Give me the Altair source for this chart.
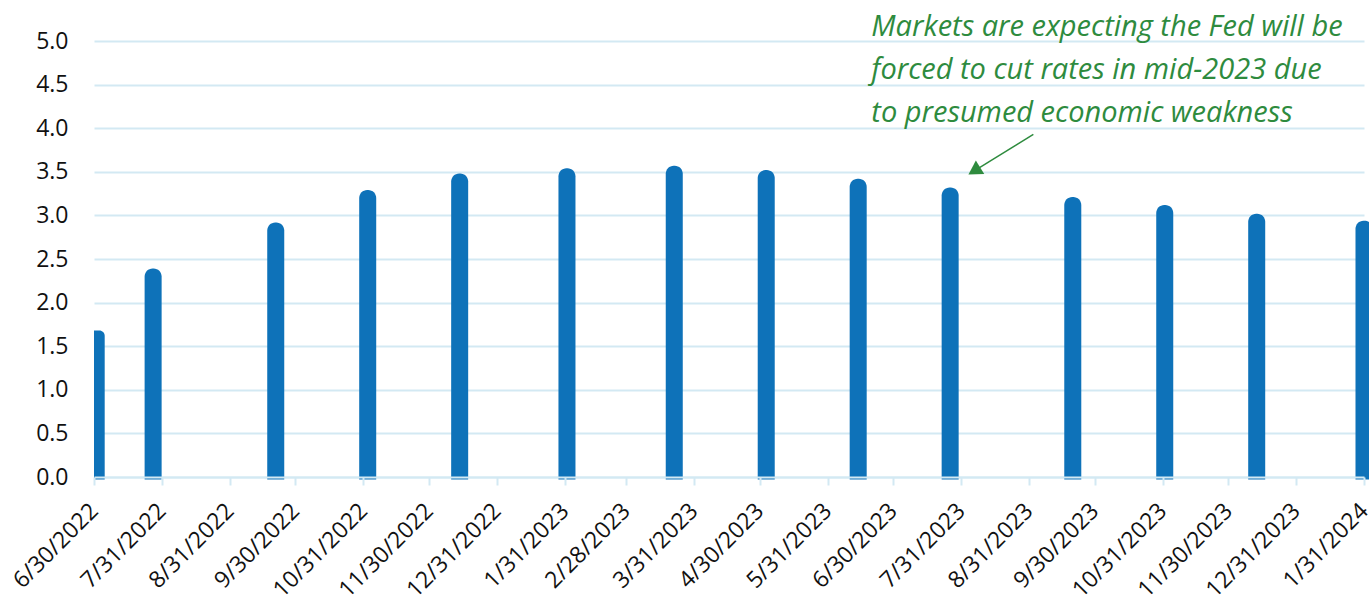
import altair as alt
import pandas as pd

# Bar dates (FOMC meeting dates) and expected rate values
dates = ["2022-07-01", "2022-07-27", "2022-09-21", "2022-11-02", "2022-12-14",
         "2023-02-01", "2023-03-22", "2023-05-03", "2023-06-14", "2023-07-26",
         "2023-09-20", "2023-11-01", "2023-12-13", "2024-01-31"]
rates = [1.68, 2.39, 2.92, 3.29, 3.48, 3.54, 3.57, 3.52, 3.42, 3.32,
         3.21, 3.12, 3.02, 2.94]

tick_dates = [(2022, 6, 30), (2022, 7, 31), (2022, 8, 31), (2022, 9, 30), (2022, 10, 31),
              (2022, 11, 30), (2022, 12, 31), (2023, 1, 31), (2023, 2, 28), (2023, 3, 31),
              (2023, 4, 30), (2023, 5, 31), (2023, 6, 30), (2023, 7, 31), (2023, 8, 31),
              (2023, 9, 30), (2023, 10, 31), (2023, 11, 30), (2023, 12, 31), (2024, 1, 31)]
y_ticks = [0.0, 0.5, 1.0, 1.5, 2.0, 2.5, 3.0, 3.5, 4.0, 4.5, 5.0]

note_lines = ["Markets are expecting the Fed will be",
              "forced to cut rates in mid-2023 due",
              "to presumed economic weakness"]
note_y = [5.16, 4.667, 4.174]
note_x = "2023-06-20T00:00:00"

arrow_start = ("2023-09-02T00:00:00", 3.93)
arrow_end = ("2023-08-06T00:00:00", 3.51)
arrow_tip = ("2023-08-06T00:00:00", 3.51)

BLUE = "#0e72b9"
GREEN = "#2e8b3e"
GRID = "#d3e9f3"
FONT = "Open Sans"
HALF_DAYS = 3.885      # half bar width, in days
BASE = -0.03           # bars run a hair below the axis line

df = pd.DataFrame({"date": [d + "T00:00:00" for d in dates], "rate": rates,
                   "i": list(range(len(dates)))})

xscale = alt.Scale(domain=[alt.DateTime(year=2022, month=6, date=30),
                           alt.DateTime(year=2024, month=1, date=31)])
yscale = alt.Scale(domain=[0, 5])

xaxis = alt.Axis(values=[alt.DateTime(year=y, month=m, date=d) for y, m, d in tick_dates],
                 format="%-m/%-d/%Y", labelAngle=-45, labelAlign="right",
                 labelBaseline="middle", labelOverlap=False, labelFlush=False,
                 labelFont=FONT, labelFontSize=23, labelColor="#111111",
                 labelPadding=22, tickSize=8, tickColor=GRID, tickWidth=2,
                 domainColor=GRID, domainWidth=2, grid=False, zindex=1)
yaxis = alt.Axis(values=y_ticks, format=".1f", labelFont=FONT, labelFontSize=23,
                 labelColor="#111111", labelPadding=26, ticks=False, domain=False,
                 gridColor=GRID, gridWidth=2)

base = alt.Chart(df).transform_calculate(
    xl=f"max(time(toDate(datum.date)) - {HALF_DAYS}*864e5, time(datetime(2022,5,30)))",
    xr=f"time(toDate(datum.date)) + {HALF_DAYS}*864e5",
)

bars = base.transform_filter("datum.i > 0").mark_bar(
    color=BLUE, cornerRadiusTopLeft=8, cornerRadiusTopRight=8
).encode(
    x=alt.X("xl:T", scale=xscale, title=None, axis=xaxis),
    x2="xr:T",
    y=alt.Y("rate:Q", scale=yscale, title=None, axis=yaxis),
    y2=alt.datum(BASE),
)

first_bar = base.transform_filter("datum.i == 0").mark_bar(
    color=BLUE, cornerRadiusTopRight=8
).encode(
    x=alt.X("xl:T", scale=xscale),
    x2="xr:T",
    y=alt.Y("rate:Q", scale=yscale),
    y2=alt.datum(BASE),
)

notes = pd.DataFrame({"text": note_lines, "y": note_y, "x": [note_x] * 3})
note_text = alt.Chart(notes).mark_text(
    align="left", baseline="middle", font=FONT, fontSize=29, fontStyle="italic",
    color=GREEN
).encode(
    x=alt.X("x:T", scale=xscale),
    y=alt.Y("y:Q", scale=yscale),
    text="text:N",
)

arrow_df = pd.DataFrame({"x": [arrow_start[0]], "y": [arrow_start[1]],
                         "x2": [arrow_end[0]], "y2": [arrow_end[1]]})
arrow_line = alt.Chart(arrow_df).mark_rule(color=GREEN, strokeWidth=1.5).encode(
    x=alt.X("x:T", scale=xscale), y=alt.Y("y:Q", scale=yscale),
    x2="x2:T", y2="y2:Q",
)
tip_df = pd.DataFrame({"x": [arrow_tip[0]], "y": [arrow_tip[1]]})
arrow_head = alt.Chart(tip_df).mark_point(
    shape="triangle-up", filled=True, color=GREEN, opacity=1, size=250, angle=238
).encode(x=alt.X("x:T", scale=xscale), y=alt.Y("y:Q", scale=yscale))

chart = alt.layer(bars, first_bar, arrow_line, arrow_head, note_text).properties(
    width=1270, height=436,
    autosize=alt.AutoSizeParams(type="none"),
    padding={"left": 94, "top": 41, "right": 5, "bottom": 125},
    background="white",
).configure_view(strokeWidth=0)

chart.save("out.html", embed_options={"renderer": "svg", "actions": False})
